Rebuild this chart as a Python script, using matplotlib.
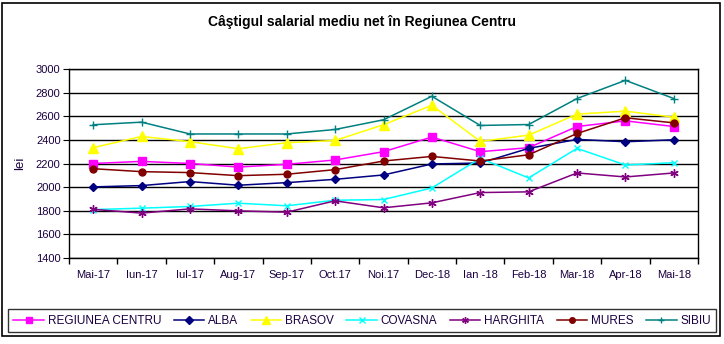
import matplotlib.pyplot as plt
from matplotlib.patches import Rectangle

plt.rcParams['font.family'] = ['Liberation Sans', 'DejaVu Sans']

months = ['Mai-17', 'Iun-17', 'Iul-17', 'Aug-17', 'Sep-17', 'Oct.17', 'Noi.17',
          'Dec-18', 'Ian -18', 'Feb-18', 'Mar-18', 'Apr-18', 'Mai-18']

regiunea = [2200, 2218, 2200, 2170, 2193, 2230, 2300, 2424, 2300, 2334, 2513, 2561, 2513]
alba = [2002, 2013, 2047, 2016, 2038, 2066, 2103, 2196, 2204, 2328, 2404, 2384, 2401]
brasov = [2334, 2429, 2385, 2325, 2376, 2395, 2528, 2693, 2387, 2440, 2618, 2643, 2592]
covasna = [1810, 1822, 1836, 1864, 1842, 1889, 1895, 1993, 2244, 2078, 2328, 2187, 2207]
harghita = [1812, 1780, 1816, 1799, 1788, 1884, 1825, 1867, 1954, 1960, 2120, 2086, 2120]
mures = [2156, 2131, 2123, 2097, 2109, 2148, 2221, 2260, 2221, 2274, 2454, 2587, 2544]
sibiu = [2528, 2550, 2450, 2450, 2450, 2488, 2570, 2769, 2522, 2530, 2750, 2904, 2750]

series = [
    ('REGIUNEA CENTRU', regiunea, '#FF00FF', 's', 5.5),
    ('ALBA', alba, '#000080', 'D', 4.5),
    ('BRASOV', brasov, '#FFFF00', '^', 6.5),
    ('COVASNA', covasna, '#00FFFF', 'x', 5),
    ('HARGHITA', harghita, '#800080', (6, 2, 0), 6),
    ('MURES', mures, '#800000', 'o', 5),
    ('SIBIU', sibiu, '#008080', '+', 6),
]

txt = '#1a0040'

fig = plt.figure(figsize=(7.24, 3.44), dpi=100)
ax = fig.add_axes([69/724, 1-258/344, 629/724, 189/344])

x = list(range(len(months)))
for name, vals, col, mk, ms in series:
    ax.plot(x, vals, color=col, marker=mk, markersize=ms, linewidth=1.1,
            markeredgewidth=1.0, label=name)

ax.set_ylim(1400, 3000)
ax.set_yticks(range(1400, 3001, 200))
ax.set_xlim(-0.5, len(months) - 0.5)
ax.set_xticks(x)
ax.set_xticklabels(months)
ax.set_xticks([i - 0.5 for i in range(len(months) + 1)], minor=True)
ax.tick_params(axis='x', which='major', length=0, pad=9, labelsize=8, labelcolor=txt)
ax.tick_params(axis='x', which='minor', length=4, direction='out', width=1)
ax.tick_params(axis='y', length=4, direction='out', labelsize=8, labelcolor=txt, pad=2)
ax.yaxis.grid(True, color='black', linewidth=1)
ax.set_axisbelow(True)
for s in ax.spines.values():
    s.set_color('black')
    s.set_linewidth(1)
ax.set_ylabel('lei', fontsize=9.5, color=txt, labelpad=7)

fig.text(0.5, 1-22/344, 'Câştigul salarial mediu net în Regiunea Centru',
         ha='center', va='center', fontsize=10, fontweight='bold')

leg = fig.legend(loc='lower left', bbox_to_anchor=(8/724, 1-332/344, 708/724, 29/344),
                 mode='expand', ncol=7, fontsize=8.5, frameon=True, fancybox=False,
                 edgecolor='black', handlelength=2.6, handletextpad=0.3,
                 borderpad=0.45, borderaxespad=0, labelcolor=txt, markerscale=0.8)
leg.get_frame().set_linewidth(1)

fig.add_artist(Rectangle((2/724, 1-336/344), 718/724, 333/344, transform=fig.transFigure,
                         fill=False, edgecolor='black', linewidth=1.2))

fig.savefig('out.png', dpi=100)
